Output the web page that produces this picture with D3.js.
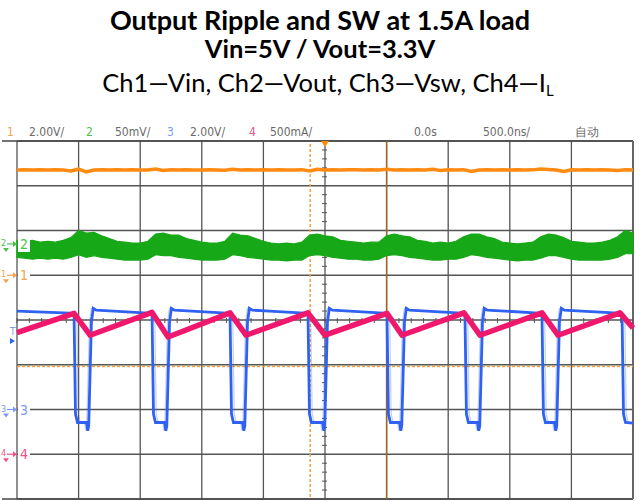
<!DOCTYPE html>
<html>
<head>
<meta charset="utf-8">
<script src="https://cdn.jsdelivr.net/npm/d3@7"></script>
<style>
  body { margin: 0; background: #fff; }
  svg { display: block; }
</style>
</head>
<body>
<div id="chart"></div>
<script>
// ---- data ----
const chNames = ["1", "2", "3", "4"];
const chScaleLabels = ["2.00V/", "50mV/", "2.00V/", "500mA/"];
const chPerDiv = [2.0, 50, 2.0, 0.5];          // V, mV, V, A per division
const chOffsetDiv = [1, 1.7, -2, -3];           // ground marker position (div)
const timeLabels = ["0.0s", "500.0ns/", "自动"];

// time base: 500 ns/div, 10 div, 0 at centre (µs)
const tDomain = [-2.5, 2.5];
const sampleT = d3.range(81).map(i => tDomain[0] + i * 0.0625);

// Ch1 - Vin (V)
const vin = [
  4.70, 4.71, 4.70, 4.72, 4.70, 4.71, 4.70, 4.66, 4.74, 4.62,
  4.70, 4.71, 4.70, 4.72, 4.70, 4.71, 4.70, 4.70, 4.75, 4.68,
  4.72, 4.70, 4.71, 4.70, 4.70, 4.71, 4.70, 4.69, 4.74, 4.70,
  4.71, 4.70, 4.72, 4.70, 4.71, 4.70, 4.70, 4.72, 4.66, 4.74,
  4.70, 4.71, 4.70, 4.71, 4.72, 4.70, 4.71, 4.70, 4.74, 4.70,
  4.71, 4.70, 4.72, 4.70, 4.74, 4.68, 4.71, 4.70, 4.72, 4.64,
  4.70, 4.71, 4.70, 4.71, 4.70, 4.72, 4.70, 4.71, 4.75, 4.73,
  4.70, 4.64, 4.71, 4.70, 4.72, 4.70, 4.71, 4.70, 4.68, 4.72,
  4.70
];

// Ch2 - Vout ripple envelope (mV), upper and lower edge of the noisy band
const voutHi = [
  4, 3, 4, 2, 3, 2, 4, 7, 15, 12,
  13, 9, 6, 3, 2, 1, 1, 3, 11, 12,
  10, 10, 6, 4, 2, 1, 1, 3, 12, 10,
  9, 6, 3, 1, 0, 1, 0, 2, 10, 11,
  9, 8, 4, 3, 2, 1, 2, 2, 9, 11,
  9, 8, 4, 3, 1, 2, 1, 3, 8, 11,
  11, 8, 6, 2, 1, 0, 1, 2, 8, 11,
  10, 7, 3, 2, 1, 1, 2, 4, 8, 15,
  12
];
const voutLo = [
  -15, -16, -17, -16, -17, -16, -17, -15, -12, -15,
  -13, -15, -16, -17, -18, -18, -18, -17, -12, -13,
  -13, -15, -16, -17, -18, -18, -18, -17, -12, -13,
  -15, -16, -17, -18, -18, -19, -18, -18, -13, -12,
  -13, -15, -16, -17, -17, -18, -18, -17, -13, -12,
  -13, -15, -16, -17, -18, -18, -17, -17, -15, -12,
  -13, -15, -16, -17, -18, -19, -18, -18, -16, -13,
  -13, -15, -17, -18, -18, -18, -18, -17, -15, -11,
  -11
];

// Ch3 - Vsw edges (µs) and levels (V)
const swFall = [-2.037, -1.404, -0.771, -0.138, 0.503, 1.136, 1.761, 2.411];
const swRise = [-1.916, -1.282, -0.649, 0.0, 0.625, 1.258, 1.883];
const swHigh = 4.40;
const swHighEnd = 4.31;
const swOvershoot = 4.52;
const swLow = -0.58;
const swDip = -0.95;

// Ch4 - inductor current vertices (µs, A)
const ilT = [-2.5, -2.037, -1.907, -1.404, -1.274, -0.771, -0.641, -0.138, 0.0,
             0.503, 0.625, 1.128, 1.258, 1.761, 1.891, 2.394, 2.5];
const ilA = [1.36, 1.575, 1.33, 1.585, 1.31, 1.58, 1.33, 1.58, 1.33,
             1.575, 1.33, 1.58, 1.33, 1.58, 1.33, 1.58, 1.41];

// ---- layout ----
const svgWidth = 641;
const svgHeight = 501;
const plot = { left: 17, right: 633, top: 141, bottom: 499 };

const colors = ["#ff8a12", "#17a817", "#2f62f0", "#f0186c"];
const labelColors = ["#f5a24a", "#4cc24c", "#7b9bf5", "#f0508c"];

const svg = d3.select("#chart")
  .append("svg")
  .attr("width", svgWidth)
  .attr("height", svgHeight);

const x = d3.scaleLinear().domain(tDomain).range([plot.left, plot.right]);
const y = d3.scaleLinear().domain([-4, 4]).range([plot.bottom, plot.top]);
const chY = (ch, v) => y(chOffsetDiv[ch] + v / chPerDiv[ch]);

// ---- titles ----
svg.append("text")
  .attr("x", 320).attr("y", 30)
  .attr("text-anchor", "middle")
  .attr("font-family", "Lato, 'Open Sans', sans-serif")
  .attr("font-weight", "bold")
  .attr("font-size", 27)
  .text("Output Ripple and SW at 1.5A load");

svg.append("text")
  .attr("x", 320).attr("y", 58)
  .attr("text-anchor", "middle")
  .attr("font-family", "Lato, 'Open Sans', sans-serif")
  .attr("font-weight", "bold")
  .attr("font-size", 25.5)
  .text("Vin=5V / Vout=3.3V");

const sub = svg.append("text")
  .attr("x", 328).attr("y", 92)
  .attr("text-anchor", "middle")
  .attr("font-family", "Lato, 'Open Sans', sans-serif")
  .attr("font-size", 25.5);
sub.append("tspan").text("Ch1\u2014Vin, Ch2\u2014Vout, Ch3\u2014Vsw, Ch4\u2014I");
sub.append("tspan").attr("dy", 4).attr("font-size", 15).text("L");

// ---- scope status line ----
const status = svg.append("g")
  .attr("font-family", "'DejaVu Sans Condensed', 'Liberation Sans Narrow', sans-serif")
  .attr("font-size", 12);
const numX = [7, 86, 167, 249];
const scaleX = [29, 115, 190, 270];
chNames.forEach((n, i) => {
  status.append("text").attr("x", numX[i]).attr("y", 136).attr("fill", labelColors[i]).text(n);
  status.append("text").attr("x", scaleX[i]).attr("y", 136).attr("fill", "#6a6a6a").text(chScaleLabels[i]);
});
[414, 483, 575].forEach((px, i) => {
  status.append("text").attr("x", px).attr("y", 136).attr("fill", "#6a6a6a").text(timeLabels[i]);
});

// ---- graticule ----
const grid = svg.append("g");
const vLines = d3.range(-2.5, 2.51, 0.5);
const hLines = d3.range(-4, 4.1, 1);

grid.selectAll(".vgrid")
  .data(vLines)
  .enter().append("line")
  .attr("x1", d => x(d)).attr("x2", d => x(d))
  .attr("y1", plot.top).attr("y2", plot.bottom)
  .attr("stroke", "#555").attr("stroke-width", 1.3);

grid.selectAll(".hgrid")
  .data(hLines)
  .enter().append("line")
  .attr("x1", plot.left).attr("x2", plot.right)
  .attr("y1", d => y(d)).attr("y2", d => y(d))
  .attr("stroke", "#555").attr("stroke-width", 1.3);

// outer frame
grid.append("line")
  .attr("x1", 2).attr("x2", plot.right)
  .attr("y1", plot.top).attr("y2", plot.top)
  .attr("stroke", "#444").attr("stroke-width", 1.6);
grid.append("line")
  .attr("x1", 2).attr("x2", plot.right)
  .attr("y1", plot.bottom).attr("y2", plot.bottom)
  .attr("stroke", "#444").attr("stroke-width", 1.6);
grid.append("line")
  .attr("x1", plot.right).attr("x2", plot.right)
  .attr("y1", plot.top).attr("y2", plot.bottom)
  .attr("stroke", "#666").attr("stroke-width", 2);

// minor ticks on the centre axes
const minorX = d3.range(-2.5, 2.501, 0.1);
const minorY = d3.range(-4, 4.01, 0.2);
grid.selectAll(".mx")
  .data(minorX)
  .enter().append("line")
  .attr("x1", d => x(d)).attr("x2", d => x(d))
  .attr("y1", y(0) - 2).attr("y2", y(0) + 3)
  .attr("stroke", "#555").attr("stroke-width", 1);
grid.selectAll(".my")
  .data(minorY)
  .enter().append("line")
  .attr("x1", x(0) - 3).attr("x2", x(0) + 2)
  .attr("y1", d => y(d)).attr("y2", d => y(d))
  .attr("stroke", "#555").attr("stroke-width", 1);

// cursors / trigger markers
grid.append("line")
  .attr("x1", x(-0.12)).attr("x2", x(-0.12))
  .attr("y1", plot.top + 3).attr("y2", plot.bottom)
  .attr("stroke", "#f7a040").attr("stroke-width", 1.5)
  .attr("stroke-dasharray", "3,2");
grid.append("line")
  .attr("x1", plot.left).attr("x2", plot.right)
  .attr("y1", y(-1.04)).attr("y2", y(-1.04))
  .attr("stroke", "#f7a040").attr("stroke-width", 1.5)
  .attr("stroke-dasharray", "3,2");
grid.append("line")
  .attr("x1", x(0.5)).attr("x2", x(0.5))
  .attr("y1", plot.top).attr("y2", plot.bottom)
  .attr("stroke", "#a8621e").attr("stroke-width", 1.4);
svg.append("path")
  .attr("d", `M${x(0) - 4},${plot.top}L${x(0) + 4},${plot.top}L${x(0)},${plot.top + 6}Z`)
  .attr("fill", "#ff8a12");

// ---- traces ----
const traces = svg.append("g");

// Ch1
traces.append("path")
  .datum(sampleT.map((t, i) => [t, vin[i]]))
  .attr("fill", "none")
  .attr("stroke", colors[0])
  .attr("stroke-width", 3.5)
  .attr("d", d3.line().x(d => x(d[0])).y(d => chY(0, d[1])));

// Ch2 noisy band
traces.append("path")
  .datum(sampleT.map((t, i) => [t, voutHi[i], voutLo[i]]))
  .attr("fill", colors[1])
  .attr("stroke", colors[1])
  .attr("stroke-width", 1.2)
  .attr("d", d3.area()
    .x(d => x(d[0]))
    .y0(d => chY(1, d[2]))
    .y1(d => chY(1, d[1])));

// Ch3 switch node
function swPoints(shiftFall, shiftRise) {
  const pts = [[tDomain[0], swHigh]];
  swFall.forEach((tf0, i) => {
    const tf = tf0 + shiftFall;
    pts.push([tf - 0.03, swHighEnd], [tf, swHighEnd - 0.05], [tf + 0.012, -0.2], [tf + 0.028, swLow]);
    if (i >= swRise.length) {
      pts.push([tDomain[1], swLow - 0.03]);
      return;
    }
    const tr = swRise[i] + shiftRise;
    pts.push([tr - 0.02, swLow], [tr - 0.01, swDip], [tr - 0.002, swLow - 0.15],
             [tr + 0.02, 3.9], [tr + 0.035, swOvershoot], [tr + 0.06, swHigh + 0.04], [tr + 0.2, swHigh]);
  });
  return pts;
}
const swLine = d3.line().x(d => x(d[0])).y(d => chY(2, d[1]));
traces.append("path")
  .datum(swPoints(0.022, -0.016))
  .attr("fill", "none")
  .attr("stroke", colors[2])
  .attr("stroke-opacity", 0.3)
  .attr("stroke-width", 1.2)
  .attr("d", swLine);
traces.append("path")
  .datum(swPoints(0, 0))
  .attr("fill", "none")
  .attr("stroke", colors[2])
  .attr("stroke-width", 2.8)
  .attr("d", swLine);

// Ch4 inductor current
traces.append("path")
  .datum(ilT.map((t, i) => [t, ilA[i]]))
  .attr("fill", "none")
  .attr("stroke", colors[3])
  .attr("stroke-width", 5.5)
  .attr("stroke-linejoin", "round")
  .attr("d", d3.line().x(d => x(d[0])).y(d => chY(3, d[1])));

// ---- channel ground markers on the left ----
const markers = svg.append("g")
  .attr("font-family", "'DejaVu Sans Condensed', sans-serif");
chNames.forEach((n, i) => {
  const yc = chY(i, 0);
  const g = markers.append("g").attr("fill", labelColors[i]).attr("stroke", labelColors[i]);
  g.append("text").attr("x", 1).attr("y", yc + 2).attr("font-size", 9).attr("stroke", "none").text(n);
  g.append("path")
    .attr("d", `M3,${yc + 4}L9,${yc + 4}L6,${yc + 8}Z`)
    .attr("stroke", "none");
  g.append("line")
    .attr("x1", 7).attr("x2", 14).attr("y1", yc).attr("y2", yc)
    .attr("stroke-width", 1.2);
  g.append("path")
    .attr("d", `M13,${yc - 3}L17,${yc}L13,${yc + 3}Z`)
    .attr("stroke", "none");
  g.append("rect")
    .attr("x", 18).attr("y", yc - 8).attr("width", 12).attr("height", 16)
    .attr("fill", "#fff").attr("stroke", "none");
  g.append("text")
    .attr("x", 20).attr("y", yc + 5)
    .attr("font-size", 14)
    .attr("stroke", "none")
    .text(n);
});

// trigger level marker for ch3
markers.append("text")
  .attr("x", 10).attr("y", 335)
  .attr("font-size", 10)
  .attr("fill", labelColors[2])
  .text("T");
markers.append("path")
  .attr("d", "M10,338L15,341L10,344Z")
  .attr("fill", colors[2]);
</script>
</body>
</html>
